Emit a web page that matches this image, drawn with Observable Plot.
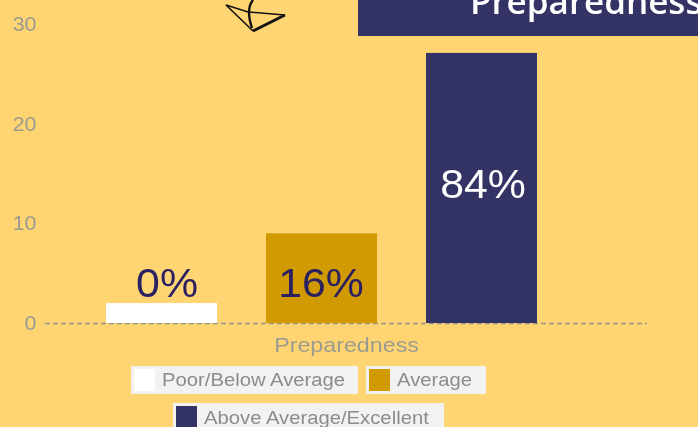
<!DOCTYPE html>
<html>
<head>
<meta charset="utf-8">
<script src="https://cdn.jsdelivr.net/npm/d3@7"></script>
<script src="https://cdn.jsdelivr.net/npm/@observablehq/plot@0.6"></script>
<style>
html,body{margin:0;padding:0;background:#FFD573;overflow:hidden}
#wrap{position:relative;width:698px;height:427px;overflow:hidden;background:#FFD573;font-family:"Liberation Sans",Arial,sans-serif;filter:blur(0.5px)}
#chart{position:absolute;left:0;top:0}
#chart svg{display:block;background:transparent}
.banner{position:absolute;left:358px;top:0;width:340px;height:36px;background:#333366;overflow:hidden}
.banner span{position:absolute;left:112px;top:-20px;color:#fff;font:600 35px/42px "Open Sans",sans-serif;white-space:nowrap}
.logo{position:absolute;left:220px;top:0}
.leg{position:absolute;background:#F2F2F2;height:28px;color:#8c8c8c;font-size:18px;line-height:28px;white-space:nowrap}
.leg i{position:absolute;left:3px;top:3px;width:21px;height:22px}
.leg b{position:absolute;left:31px;top:0;font-weight:400;transform:scaleX(1.125);transform-origin:left center}
</style>
</head>
<body>
<div id="wrap">
<div id="chart"></div>
<svg class="logo" width="70" height="36" viewBox="0 0 70 36"><g fill="none" stroke="#111"><path d="M6 5 L33 31" stroke-width="1.6"/><path d="M33 31 L65 15" stroke-width="2.8"/><path d="M6 5 L28 12 L65 15" stroke-width="1.4"/><path d="M33 0 C28 6 28 16 32 28" stroke-width="2.4"/></g></svg>
<div class="banner"><span>Preparedness</span></div>
<div class="leg" style="left:131px;top:366px;width:227px"><i style="background:#fff"></i><b>Poor/Below Average</b></div>
<div class="leg" style="left:366px;top:366px;width:120px"><i style="background:#D09A00"></i><b>Average</b></div>
<div class="leg" style="left:173px;top:403px;width:271px"><i style="background:#333366"></i><b style="top:1px">Above Average/Excellent</b></div>
</div>
<script>
const categories = ["Poor/Below Average", "Average", "Above Average/Excellent"];
const values = [2, 9, 27.1];
const labels = ["0%", "16%", "84%"];
const colors = ["#ffffff", "#D09A00", "#333366"];
const labelColors = ["#2B2060", "#2B2060", "#ffffff"];
const yTicks = [0, 10, 20, 30];
const data = categories.map((c, i) => ({c, v: values[i], label: labels[i], color: colors[i], lc: labelColors[i]}));

const plot = Plot.plot({
  width: 698, height: 427,
  marginTop: 24, marginBottom: 104, marginLeft: 45, marginRight: 51,
  style: {background: "transparent", fontFamily: "'Liberation Sans',Arial,sans-serif"},
  x: {domain: categories, paddingInner: 0.306, paddingOuter: 0.534, align: 0.357, axis: null},
  y: {domain: [0, 30], axis: null},
  marks: [
    Plot.ruleY([0], {stroke: "#969688", strokeWidth: 1.5, strokeDasharray: "5,3"}),
    Plot.barY(data, {x: "c", y: "v", fill: d => d.color}),
    Plot.axisY({ticks: yTicks, tickSize: 0, tickPadding: 9, fontSize: 20, color: "#9b9b8f", label: null, className: "wide"}),
    Plot.text(data.slice(0, 1), {x: "c", y: "v", text: "label", fill: d => d.lc, fontSize: 40, lineAnchor: "bottom", dy: -7, dx: 5, className: "wide"}),
    Plot.text(data.slice(1, 2), {x: "c", y: d => d.v / 2, text: "label", fill: d => d.lc, fontSize: 40, dy: 6, dx: -1, className: "wide"}),
    Plot.text(data.slice(2), {x: "c", y: d => d.v / 2, text: "label", fill: d => d.lc, fontSize: 40, dy: -3, dx: 1, className: "wide"}),
    Plot.text(["Preparedness"], {frameAnchor: "bottom", dy: 28, fill: "#9b9b8f", fontSize: 21, className: "axis-title"})
  ]
});
document.getElementById("chart").appendChild(plot);
function stretch(selector, factor) {
  plot.querySelectorAll(selector).forEach(t => {
    t.setAttribute("textLength", t.getComputedTextLength() * factor);
    t.setAttribute("lengthAdjust", "spacingAndGlyphs");
  });
}
stretch(".wide text", 1.07);
stretch(".axis-title text", 1.107);
</script>
</body>
</html>
